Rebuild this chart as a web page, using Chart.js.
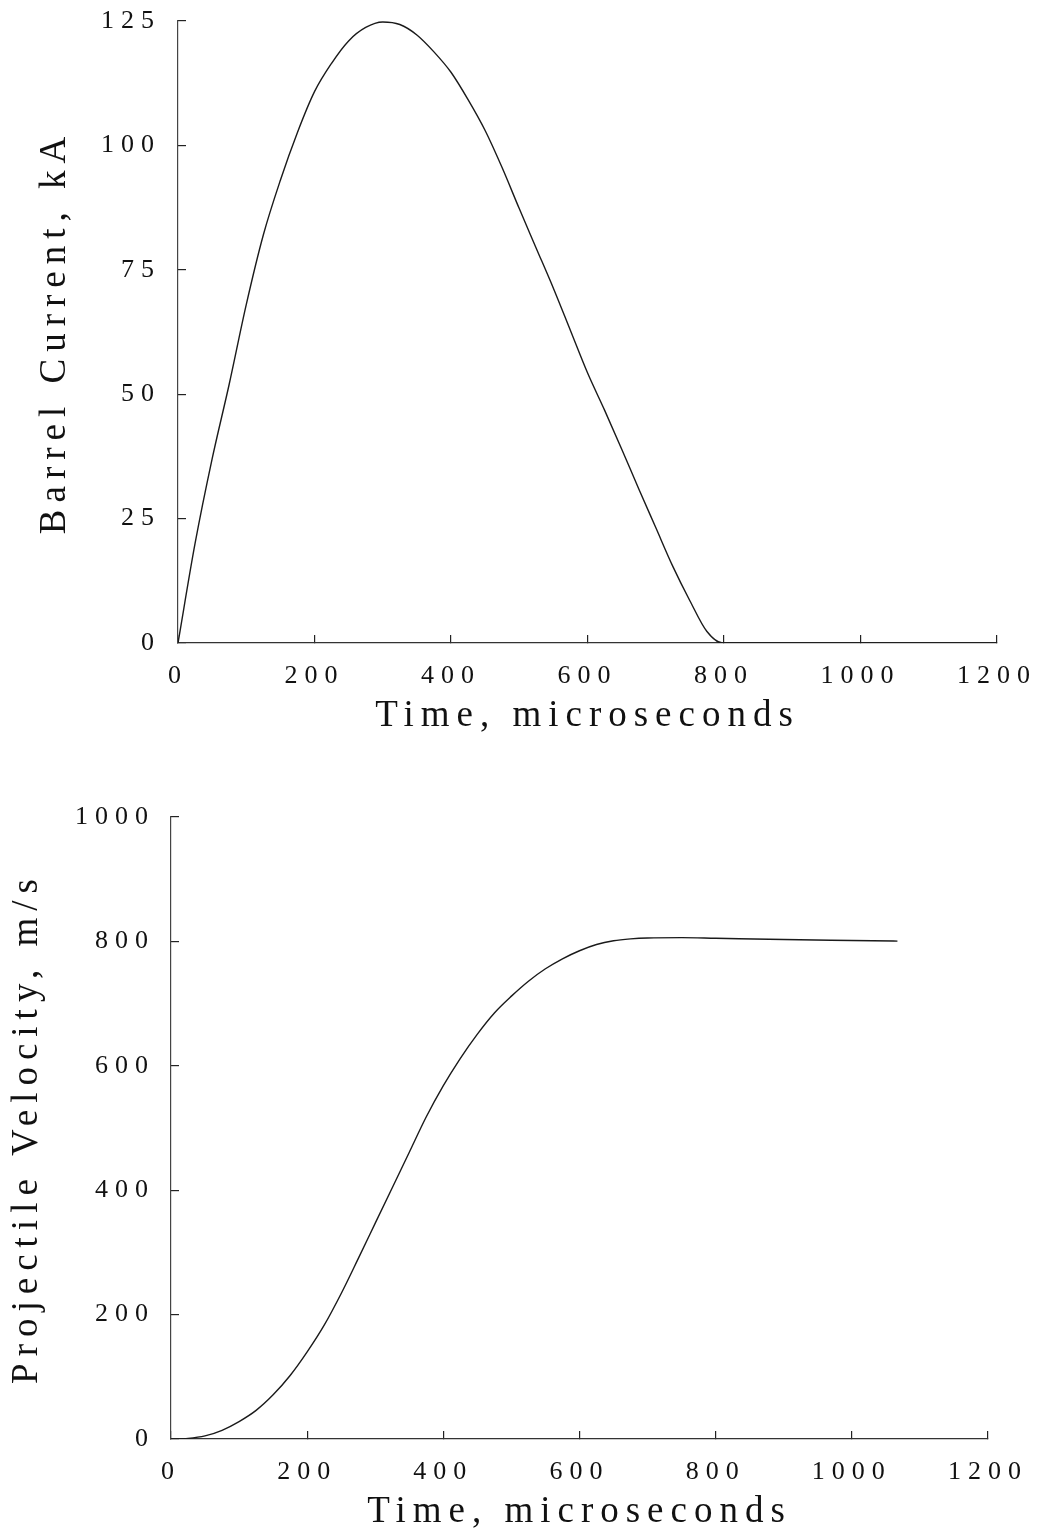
<!DOCTYPE html>
<html>
<head>
<meta charset="utf-8">
<script src="https://cdn.jsdelivr.net/npm/chart.js@4.4.1/dist/chart.umd.min.js"></script>
<style>
  body { margin: 0; background: #fff; }
  canvas { position: absolute; left: 0; }
  #top { top: 0; }
  #bottom { top: 770px; }
</style>
</head>
<body>
<canvas id="top" width="1041" height="770"></canvas>
<canvas id="bottom" width="1041" height="766"></canvas>
<script>
// values
var timeTicks = [0, 200, 400, 600, 800, 1000, 1200]
var currentTicks = [0, 25, 50, 75, 100, 125]
var velocityTicks = [0, 200, 400, 600, 800, 1000]

var currentTime = [0, 25, 50, 75, 100, 125, 150, 175, 200, 225, 250, 275, 300, 325, 350, 375, 400, 425, 450, 475, 500, 525, 550, 575, 600, 625, 650, 675, 700, 725, 750, 775, 798, 1200]
var current = [0, 20, 37, 52, 68, 82, 93, 102.6, 110.8, 116.5, 121, 123.7, 124.8, 124.3, 122.2, 118.8, 114.7, 109.2, 103, 95.5, 87.3, 79.3, 71.3, 62.8, 54.3, 46.8, 39, 31, 23.2, 15.4, 8.5, 2.3, 0, 0]

var velocityTime = [0, 25, 50, 75, 100, 125, 150, 175, 200, 225, 250, 275, 300, 325, 350, 375, 400, 425, 450, 475, 500, 525, 550, 575, 600, 625, 650, 675, 700, 750, 800, 900, 1000, 1067]
var velocity = [0, 1, 5, 14, 28, 46, 71, 102, 140, 183, 234, 290, 347, 404, 461, 518, 568, 612, 651, 685, 712, 736, 756, 772, 785, 795, 801, 804, 805.5, 806, 805, 803, 801.5, 800.5]

var serif = "'Liberation Serif', 'DejaVu Serif', serif"

// wide letter spacing like the old plotter text
var spacing = {
  id: 'spacing',
  beforeUpdate: function (c) { c.ctx.letterSpacing = '7px' },
  beforeLayout: function (c) { c.ctx.letterSpacing = '7px' },
  beforeDraw: function (c) { c.ctx.letterSpacing = '7px' }
}

function points(xs, ys) {
  var out = []
  xs.forEach(function (x, i) { out.push({x: x, y: ys[i]}) })
  return out
}

function useTicks(list) {
  return function (scale) {
    scale.ticks = list.map(function (v) { return {value: v} })
  }
}

function noOverflow(s) {
  s.paddingTop = 0; s.paddingBottom = 0; s.paddingLeft = 0; s.paddingRight = 0
}

function makeChart(id, opts) {
  return new Chart(document.getElementById(id), {
    type: 'line',
    data: {
      datasets: [{
        data: points(opts.xs, opts.ys),
        borderColor: '#1a1a1a',
        borderWidth: 1.4,
        pointRadius: 0,
        cubicInterpolationMode: 'monotone',
        fill: false
      }]
    },
    plugins: [spacing],
    options: {
      responsive: false,
      animation: false,
      events: [],
      layout: {padding: opts.padding},
      plugins: {legend: {display: false}, tooltip: {enabled: false}},
      scales: {
        x: {
          type: 'linear',
          min: 0, max: 1200,
          afterBuildTicks: useTicks(timeTicks),
          afterFit: function (s) { s.height = 95; noOverflow(s) },
          border: {color: '#333', width: 1.3},
          grid: {drawOnChartArea: false, tickLength: -8, color: '#222', lineWidth: 1.2},
          ticks: {color: '#111', padding: 26, font: {family: serif, size: 26},
                  callback: function (v) { return String(v) }},
          title: {display: true, text: 'Time, microseconds', color: '#111', padding: 0,
                  font: {family: serif, size: 37}}
        },
        y: {
          min: 0, max: opts.ymax,
          afterBuildTicks: useTicks(opts.yticks),
          afterFit: function (s) { s.width = opts.yw; noOverflow(s) },
          border: {color: '#444', width: 1.2},
          grid: {drawOnChartArea: false, tickLength: -8, color: '#222', lineWidth: 1.2},
          ticks: {color: '#111', padding: opts.ypad, font: {family: serif, size: 26},
                  callback: function (v) { return String(v) }},
          title: {display: true, text: opts.ytitle, color: '#111',
                  padding: {top: opts.tpad, bottom: 0}, font: {family: serif, size: 37}}
        }
      }
    }
  })
}

makeChart('top', {
  xs: currentTime, ys: current, ymax: 125, yticks: currentTicks,
  yw: 178, ypad: 25, tpad: 33, ytitle: 'Barrel Current, kA',
  padding: {top: 21, right: 44, bottom: 32, left: 0}
})

makeChart('bottom', {
  xs: velocityTime, ys: velocity, ymax: 1000, yticks: velocityTicks,
  yw: 171, ypad: 24, tpad: 5, ytitle: 'Projectile Velocity, m/s',
  padding: {top: 47, right: 53, bottom: 2, left: 0}
})
</script>
</body>
</html>
